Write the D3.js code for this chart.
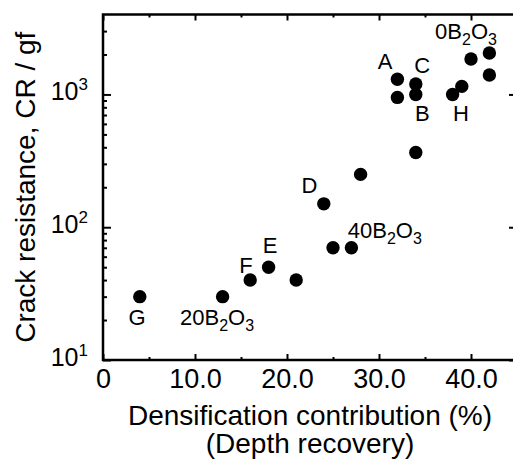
<!DOCTYPE html>
<html><head><meta charset="utf-8">
<script src="https://cdn.jsdelivr.net/npm/d3@7"></script>
<style>
body{margin:0;background:#fff}
svg{display:block}
text{font-family:"Liberation Sans",Arial,Helvetica,sans-serif;fill:#000}
</style></head>
<body><svg id="c" width="513" height="459"></svg>
<script>
// Data (x: densification contribution %, y: crack resistance gf)
const xValues=[4,13,16,18,21,24,25,27,28,34,32,32,34,34,38,39,40,42,42];
const yValues=[30,30,40,50,40,150,70,70,250,365,1300,950,1200,1000,1000,1150,1850,2050,1400];
const xMajorTicks=[0,10,20,30,40];
const xMinorTicks=[5,15,25,35,45];
const yMajorTicks=[10,100,1000];
const yMajorExp=["1","2","3"];
// annotation texts with their anchor in data units
const letterTexts=["A","C","B","H","D","E","F","G"];
const letterX=[30.65,34.7,34.7,38.9,22.45,18.15,15.55,3.7];
const letterY=[1542,1439,627,627,180,63.8,45.1,18.3];
const formulaPrefix=["0","40","20"];
const formulaX=[36.1,26.6,8.37];
const formulaY=[2594,82.6,18.3];

const svg=d3.select("#c");
const L=103,T=14.5,R=517,B=360;
const x=d3.scaleLinear().domain([0,45]).range([L,R]);
const y=d3.scaleLog().domain([10,4000]).range([B,T]);

const yMinor=[];
yMajorTicks.forEach(d=>{for(let k=2;k<=9;k++){const v=d*k;if(v<4000)yMinor.push(v);}});
const yRightMinor=yMinor.filter(v=>String(v)[0]==="5");

// axes with inward ticks
const gB=svg.append("g").attr("transform",`translate(0,${B})`)
  .call(d3.axisBottom(x).tickValues(xMajorTicks).tickSize(-6).tickPadding(9)
    .tickFormat(d=>d===0?"0":d3.format(".1f")(d)));
gB.selectAll("text").attr("font-size",27).attr("font-family",null);
svg.append("g").attr("transform",`translate(0,${B})`)
  .call(d3.axisBottom(x).tickValues(xMinorTicks).tickSize(-3).tickFormat(""));
svg.append("g").attr("transform",`translate(0,${T})`)
  .call(d3.axisTop(x).tickValues(xMajorTicks).tickSize(-6).tickFormat(""));
svg.append("g").attr("transform",`translate(0,${T})`)
  .call(d3.axisTop(x).tickValues(xMinorTicks).tickSize(-3).tickFormat(""));
svg.append("g").attr("transform",`translate(${L},0)`)
  .call(d3.axisLeft(y).tickValues(yMajorTicks).tickSize(-8).tickFormat(""));
svg.append("g").attr("transform",`translate(${L},0)`)
  .call(d3.axisLeft(y).tickValues(yMinor).tickSize(-4).tickFormat(""));
svg.append("g").attr("transform",`translate(${R},0)`)
  .call(d3.axisRight(y).tickValues(yMajorTicks).tickSize(-8).tickFormat(""));
svg.append("g").attr("transform",`translate(${R},0)`)
  .call(d3.axisRight(y).tickValues(yRightMinor).tickSize(-4).tickFormat(""));
svg.selectAll(".domain").remove();
svg.selectAll(".tick line").attr("stroke","#000").attr("stroke-width",2);

// frame
svg.append("rect").attr("x",L).attr("y",T).attr("width",R-L).attr("height",B-T)
  .attr("fill","none").attr("stroke","#000").attr("stroke-width",2.5);

// y tick labels with superscripts
yMajorTicks.forEach((v,i)=>{
  const t=svg.append("text").attr("x",88).attr("y",y(v)+6).attr("text-anchor","end");
  t.append("tspan").attr("font-size",25).text("10");
  t.append("tspan").attr("font-size",17).attr("dy",-10).text(yMajorExp[i]);
});

// axis titles
svg.append("text").attr("transform",`translate(35,${(T+B)/2}) rotate(-90)`)
  .attr("text-anchor","middle").attr("font-size",28).text("Crack resistance, CR / gf");
svg.append("text").attr("x",(L+R)/2).attr("y",425).attr("text-anchor","middle")
  .attr("font-size",28).text("Densification contribution (%)");
svg.append("text").attr("x",(L+R)/2).attr("y",453).attr("text-anchor","middle")
  .attr("font-size",28).text("(Depth recovery)");

// points
svg.append("g").selectAll("circle").data(xValues).join("circle")
  .attr("cx",d=>x(d)).attr("cy",(d,i)=>y(yValues[i])).attr("r",6.7).attr("fill","#000");

// letter labels
letterTexts.forEach((s,i)=>{
  svg.append("text").attr("x",x(letterX[i])).attr("y",y(letterY[i]))
    .attr("text-anchor","middle").attr("font-size",22).text(s);
});
// formula labels nB2O3
formulaPrefix.forEach((p,i)=>{
  const t=svg.append("text").attr("x",x(formulaX[i])).attr("y",y(formulaY[i])).attr("font-size",22);
  t.append("tspan").text(p+"B");
  t.append("tspan").attr("font-size",16).attr("dy",6).text("2");
  t.append("tspan").attr("dy",-6).text("O");
  t.append("tspan").attr("font-size",16).attr("dy",6).text("3");
});
</script></body></html>
